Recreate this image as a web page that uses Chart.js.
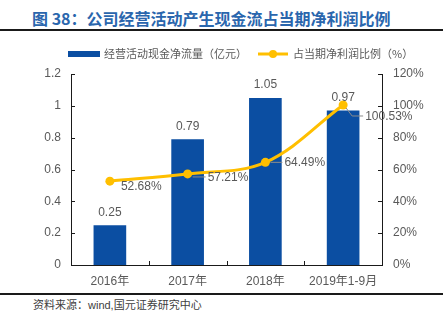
<!DOCTYPE html>
<html>
<head>
<meta charset="utf-8">
<script src="https://cdn.jsdelivr.net/npm/chart.js@4.4.0/dist/chart.umd.min.js"></script>
<style>
  body { margin: 0; width: 448px; height: 326px; background: #fff; position: relative; overflow: hidden; }
  #title { position: absolute; left: 32px; top: 8px; line-height: 20px; font-size: 16px; font-weight: bold; color: #2a66ad; font-family: "Noto Sans CJK SC", sans-serif; white-space: nowrap; }
  .rule { position: absolute; left: 0; width: 443px; height: 2px; background: #1a1a1a; }
  #source { position: absolute; left: 33px; top: 297px; line-height: 16px; font-size: 11px; color: #404040; font-family: "Liberation Sans", "Noto Sans CJK SC", sans-serif; white-space: nowrap; }
  #wrap { position: absolute; left: 0; top: 35px; width: 448px; height: 255px; }
</style>
</head>
<body>
<div id="title">图 38：公司经营活动产生现金流占当期净利润比例</div>
<div class="rule" style="top:29px"></div>
<div id="wrap"><canvas id="chart" width="448" height="255"></canvas></div>
<div class="rule" style="top:293px"></div>
<div id="source">资料来源：wind,国元证券研究中心</div>

<script>
// data
var categories = ["2016年", "2017年", "2018年", "2019年1-9月"];
var cashFlow = [0.25, 0.79, 1.05, 0.97];        // 经营活动现金净流量（亿元）
var ratio = [52.68, 57.21, 64.49, 100.53];      // 占当期净利润比例（%）
var cashLabel = "经营活动现金净流量（亿元）";
var ratioLabel = "占当期净利润比例（%）";

var barColor = "#0b4ea2";
var lineColor = "#ffbf00";
var textColor = "#595959";
var latin = "'Liberation Sans', 'Noto Sans CJK SC', sans-serif";

// where each % label sits relative to its point (dx, dy) and its leader line
var ratioLabelPos = [
  { dx: 11, dy: 6, leader: null },
  { dx: 20, dy: 4, leader: [[5, 3], [18, 3]] },
  { dx: 19, dy: 0, leader: [[5, 0], [17, 0]] },
  { dx: 22, dy: 12, leader: [[3, 3], [9, 11], [20, 11]] },
];

var ctx = document.getElementById("chart").getContext("2d");

var extrasPlugin = {
  id: "extras",
  afterDraw: function (chart) {
    var c = chart.ctx;
    var area = chart.chartArea;
    var yl = chart.scales.y;
    var yr = chart.scales.y1;
    var xs = chart.scales.x;

    // inward tick marks
    c.save();
    c.strokeStyle = "#1a1a1a";
    c.lineWidth = 1;
    c.beginPath();
    yl.ticks.forEach(function (t) {
      var p = Math.round(yl.getPixelForValue(t.value)) + 0.5;
      c.moveTo(area.left, p);
      c.lineTo(area.left + 4, p);
    });
    yr.ticks.forEach(function (t) {
      var p = Math.round(yr.getPixelForValue(t.value)) + 0.5;
      c.moveTo(area.right, p);
      c.lineTo(area.right - 4, p);
    });
    for (var i = 0; i < categories.length - 1; i++) {
      var px = Math.round((xs.getPixelForValue(i) + xs.getPixelForValue(i + 1)) / 2) + 0.5;
      c.moveTo(px, area.bottom);
      c.lineTo(px, area.bottom - 4);
    }
    c.stroke();

    // bar value labels
    c.font = "12px " + latin;
    c.fillStyle = textColor;
    c.textAlign = "center";
    c.textBaseline = "middle";
    chart.getDatasetMeta(1).data.forEach(function (el, i) {
      c.fillText(String(cashFlow[i]), el.x, el.y - 13);
    });

    // ratio labels with leader lines
    c.textAlign = "left";
    c.strokeStyle = "#8c8c8c";
    chart.getDatasetMeta(0).data.forEach(function (el, i) {
      var pos = ratioLabelPos[i];
      if (pos.leader) {
        c.beginPath();
        pos.leader.forEach(function (pt, k) {
          if (k === 0) c.moveTo(el.x + pt[0], el.y + pt[1]);
          else c.lineTo(el.x + pt[0], el.y + pt[1]);
        });
        c.stroke();
      }
      c.fillText(ratio[i].toFixed(2) + "%", el.x + pos.dx, el.y + pos.dy);
    });

    // legend
    var ly = 19;
    c.fillStyle = barColor;
    c.fillRect(68, ly - 3, 32, 6);
    c.font = "11px 'Noto Sans CJK SC', sans-serif";
    c.fillStyle = textColor;
    c.fillText(cashLabel, 104, ly);
    c.strokeStyle = lineColor;
    c.lineWidth = 3;
    c.beginPath();
    c.moveTo(258, ly);
    c.lineTo(288, ly);
    c.stroke();
    c.fillStyle = lineColor;
    c.beginPath();
    c.arc(273, ly, 4, 0, Math.PI * 2);
    c.fill();
    c.fillStyle = textColor;
    c.fillText(ratioLabel, 293, ly);
    c.restore();
  },
};

new Chart(ctx, {
  data: {
    labels: categories,
    datasets: [
      {
        type: "line",
        label: ratioLabel,
        data: ratio,
        yAxisID: "y1",
        order: 0,
        borderColor: lineColor,
        backgroundColor: lineColor,
        borderWidth: 3,
        tension: 0.35,
        pointRadius: 4.5,
        pointBackgroundColor: lineColor,
        pointBorderWidth: 0,
      },
      {
        type: "bar",
        label: cashLabel,
        data: cashFlow,
        yAxisID: "y",
        order: 1,
        backgroundColor: barColor,
        borderWidth: 0,
        categoryPercentage: 1,
        barPercentage: 0.42,
      },
    ],
  },
  options: {
    responsive: false,
    animation: false,
    layout: { padding: { top: 39, left: 0, right: 0, bottom: 0 } },
    plugins: {
      legend: { display: false },
      tooltip: { enabled: false },
    },
    scales: {
      x: {
        grid: { display: false, drawTicks: false },
        border: { display: true, color: "#1a1a1a", width: 1 },
        ticks: {
          color: textColor,
          padding: 9,
          font: { size: 12, family: latin },
          maxRotation: 0,
        },
        afterFit: function (s) { s.height = 25; },
      },
      y: {
        position: "left",
        min: 0,
        max: 1.2,
        grid: { display: false, drawTicks: false },
        border: { display: true, color: "#1a1a1a", width: 1 },
        ticks: {
          stepSize: 0.2,
          color: textColor,
          padding: 10,
          font: { size: 12, family: latin },
          callback: function (v) { return String(Math.round(v * 10) / 10); },
        },
        afterFit: function (s) { s.width = 71; },
      },
      y1: {
        position: "right",
        min: 0,
        max: 120,
        grid: { display: false, drawTicks: false },
        border: { display: true, color: "#1a1a1a", width: 1 },
        ticks: {
          stepSize: 20,
          color: textColor,
          padding: 11,
          font: { size: 12, family: latin },
          callback: function (v) { return v + "%"; },
        },
        afterFit: function (s) { s.width = 66; },
      },
    },
  },
  plugins: [extrasPlugin],
});
</script>
</body>
</html>
